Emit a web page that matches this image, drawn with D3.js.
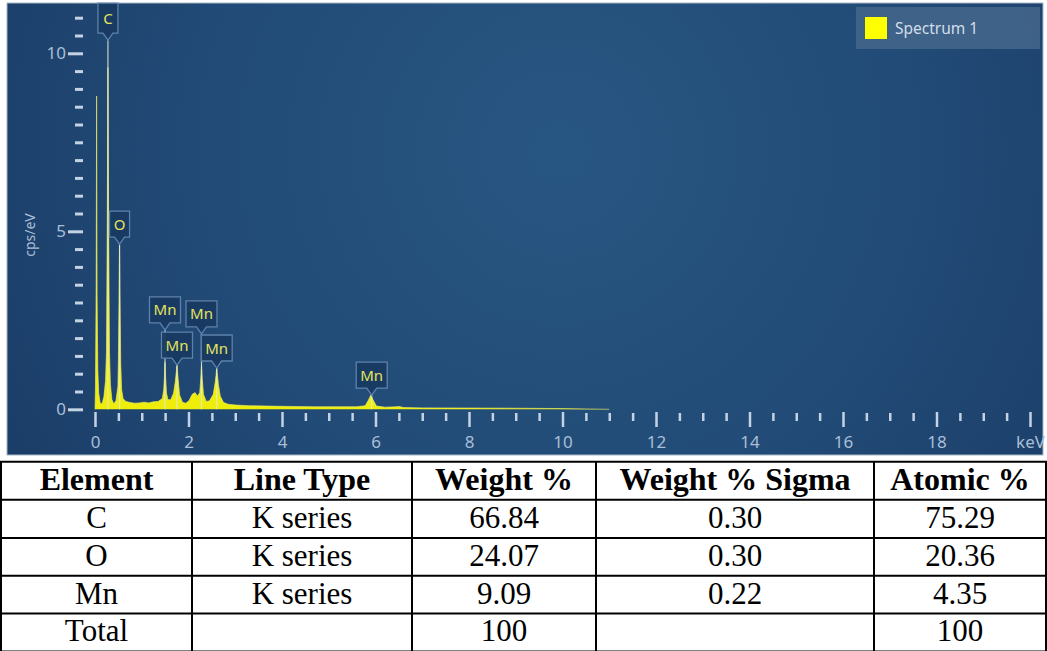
<!DOCTYPE html>
<html>
<head>
<meta charset="utf-8">
<script src="https://cdn.jsdelivr.net/npm/d3@7"></script>
<style>
  html, body { margin: 0; padding: 0; background: #ffffff; }
  svg { display: block; }
</style>
</head>
<body>
<svg id="chart" width="1047" height="651"></svg>
<script>
// EDS spectrum (energy in keV, intensity in cps/eV)
const specKeV = [0.000, 0.010, 0.025, 0.035, 0.045, 0.060, 0.080, 0.110, 0.150, 0.190,
  0.225, 0.245, 0.262, 0.277, 0.292, 0.310, 0.330, 0.360, 0.400, 0.450, 0.490, 0.500,
  0.513, 0.525, 0.537, 0.550, 0.570, 0.600, 0.660, 0.750, 0.850, 0.950, 1.050, 1.150,
  1.250, 1.350, 1.440, 1.470, 1.485, 1.497, 1.510, 1.530, 1.560, 1.620,
  1.680, 1.715, 1.735, 1.754, 1.775, 1.810, 1.870, 1.940, 2.010, 2.080, 2.140,
  2.190, 2.240, 2.262, 2.278, 2.295, 2.320, 2.380, 2.450, 2.530, 2.570, 2.588,
  2.603, 2.620, 2.640, 2.680, 2.750, 2.850, 3.000, 3.300, 3.700, 4.200, 4.700,
  5.200, 5.600, 5.780, 5.850, 5.900, 5.950, 6.020, 6.200, 6.450, 6.500,
  6.600, 7.000, 8.000, 9.000, 10.000, 10.500, 11.000];
const specCps = [0.00, 0.60, 3.50, 8.80, 3.20, 1.10, 0.45, 0.18, 0.15, 0.35,
  0.80, 1.60, 5.00, 9.60, 5.00, 1.60, 0.70, 0.28, 0.15, 0.25, 0.65, 1.40,
  3.00, 4.60, 3.00, 1.30, 0.55, 0.30, 0.22, 0.19, 0.17, 0.18, 0.20, 0.18,
  0.21, 0.22, 0.30, 0.55, 0.90, 1.32, 0.90, 0.45, 0.27, 0.27,
  0.45, 0.75, 1.00, 1.24, 0.90, 0.40, 0.20, 0.17, 0.24, 0.42, 0.47,
  0.37, 0.47, 0.85, 1.24, 0.85, 0.42, 0.22, 0.24, 0.42, 0.75, 0.95,
  1.16, 0.95, 0.70, 0.37, 0.19, 0.14, 0.12, 0.10, 0.09, 0.08, 0.07,
  0.07, 0.07, 0.10, 0.26, 0.40, 0.26, 0.09, 0.06, 0.07, 0.08,
  0.05, 0.04, 0.035, 0.03, 0.02, 0.01, 0.00];

// Element line markers: symbol, energy (keV), label anchor level (cps/eV)
const markerElem = ["C", "O", "Mn", "Mn", "Mn", "Mn", "Mn"];
const markerKeV = [0.277, 0.525, 1.497, 1.754, 2.278, 2.603, 5.919];
const markerLevel = [10.37, 4.64, 2.23, 1.24, 2.12, 1.16, 0.40];

// Axis ticks
const xMajorTicks = [0, 2, 4, 6, 8, 10, 12, 14, 16, 18, 20];
const xTickLabels = ["0", "2", "4", "6", "8", "10", "12", "14", "16", "18", "keV"];
const yMajorTicks = [0, 5, 10];
const yTickLabels = ["0", "5", "10"];
const legendLabel = "Spectrum 1";
const yTitle = "cps/eV";

// Quantification table
const tableHeaders = ["Element", "Line Type", "Weight %", "Weight % Sigma", "Atomic %"];
const tableElements = ["C", "O", "Mn", "Total"];
const tableLineType = ["K series", "K series", "K series", ""];
const tableWeight = ["66.84", "24.07", "9.09", "100"];
const tableSigma = ["0.30", "0.30", "0.22", ""];
const tableAtomic = ["75.29", "20.36", "4.35", "100"];

const svg = d3.select("#chart");
const uiFont = "'Noto Sans', 'Open Sans', sans-serif";

// ---- panel background ----
const defs = svg.append("defs");
const grad = defs.append("radialGradient")
  .attr("id", "panelBg").attr("gradientUnits", "userSpaceOnUse")
  .attr("cx", 560).attr("cy", 150).attr("r", 640);
grad.append("stop").attr("offset", "0%").attr("stop-color", "#285682");
grad.append("stop").attr("offset", "55%").attr("stop-color", "#224b77");
grad.append("stop").attr("offset", "100%").attr("stop-color", "#1a3d67");

const panel = { x: 7, y: 3, w: 1036, h: 452 };
svg.append("rect")
  .attr("x", panel.x).attr("y", panel.y).attr("width", panel.w).attr("height", panel.h)
  .attr("fill", "url(#panelBg)").attr("stroke", "#a6b6c6").attr("stroke-width", 1);

defs.append("clipPath").attr("id", "plotClip")
  .append("rect").attr("x", 90).attr("y", panel.y).attr("width", 950).attr("height", 407);

// ---- scales ----
const x = d3.scaleLinear().domain([0, 20]).range([95, 1030]);
const y = d3.scaleLinear().domain([0, 10]).range([409.3, 53.3]);

const tickColor = "#c3d3e4";
const labelColor = "#a9bfd7";

// ---- x axis ----
const xMinor = d3.range(0, 20.001, 0.5).filter(v => v % 2 !== 0);
const xMinorAxis = d3.axisBottom(x).tickValues(xMinor).tickSize(8).tickFormat("");
const xMajorAxis = d3.axisBottom(x).tickValues(xMajorTicks).tickSize(15).tickPadding(9)
  .tickFormat((d, i) => xTickLabels[i]);

const gxMinor = svg.append("g").attr("transform", "translate(0,413)").call(xMinorAxis);
const gxMajor = svg.append("g").attr("transform", "translate(0,412)").call(xMajorAxis);
[gxMinor, gxMajor].forEach(g => {
  g.select(".domain").remove();
  g.selectAll(".tick line").attr("stroke", tickColor).attr("stroke-width", 2.5);
});
gxMajor.attr("font-size", 17).attr("font-family", uiFont);
gxMajor.selectAll(".tick text")
  .attr("fill", labelColor).style("font-size", "17px").style("font-family", uiFont);

// ---- y axis ----
const yMinor = d3.range(0, 11.001, 0.5).filter(v => v % 5 !== 0);
const yMinorAxis = d3.axisLeft(y).tickValues(yMinor).tickSize(8).tickFormat("");
const yMajorAxis = d3.axisLeft(y).tickValues(yMajorTicks).tickSize(15).tickPadding(2)
  .tickFormat((d, i) => yTickLabels[i]);
const gyMinor = svg.append("g").attr("transform", "translate(83,0)").call(yMinorAxis);
const gyMajor = svg.append("g").attr("transform", "translate(83,0)").call(yMajorAxis);
[gyMinor, gyMajor].forEach(g => {
  g.select(".domain").remove();
  g.selectAll(".tick line").attr("stroke", tickColor).attr("stroke-width", 3);
});
gyMajor.attr("font-size", 17).attr("font-family", uiFont);
gyMajor.selectAll(".tick text")
  .attr("fill", labelColor).style("font-size", "17px").style("font-family", uiFont);

svg.append("text")
  .attr("transform", "translate(35,235) rotate(-90)")
  .attr("text-anchor", "middle")
  .attr("fill", labelColor).attr("font-family", uiFont).attr("font-size", 14)
  .text(yTitle);

// ---- spectrum ----
const spectrum = specKeV.map((k, i) => ({ k, v: specCps[i] }));
const plot = svg.append("g").attr("clip-path", "url(#plotClip)");
plot.append("path")
  .datum(spectrum)
  .attr("d", d3.area().x(d => x(d.k)).y0(y(0)).y1(d => y(d.v)))
  .attr("fill", "#eeee0a");
plot.append("path")
  .datum(spectrum)
  .attr("d", d3.line().x(d => x(d.k)).y(d => y(d.v)))
  .attr("fill", "none").attr("stroke", "#eef06a").attr("stroke-width", 0.8)
  .attr("stroke-opacity", 0.8);

// ---- element markers and callout labels ----
const markers = markerElem.map((e, i) => ({ e, k: markerKeV[i], lv: markerLevel[i] }));
plot.selectAll("line.marker").data(markers).join("line")
  .attr("class", "marker")
  .attr("x1", d => x(d.k)).attr("x2", d => x(d.k))
  .attr("y1", d => y(d.lv)).attr("y2", y(0))
  .attr("stroke", "#e4ead0").attr("stroke-width", 1.2).attr("stroke-opacity", 0.85);

const labelG = svg.append("g");
const callout = labelG.selectAll("g.callout").data(markers).join("g").attr("class", "callout");
callout.append("path")
  .attr("d", d => {
    const cx = x(d.k), tip = y(d.lv);
    const w = d.e.length > 1 ? 31 : 20, h = d.e === "C" ? 30 : 26, ph = 7;
    const bottom = tip - ph, top = bottom - h, l = cx - w / 2, r = cx + w / 2;
    return `M${l},${top}H${r}V${bottom}H${cx + 5}L${cx},${tip}L${cx - 5},${bottom}H${l}Z`;
  })
  .attr("fill", "#183a62").attr("fill-opacity", 0.92)
  .attr("stroke", "#5d82aa").attr("stroke-width", 1.3);
callout.append("text")
  .attr("x", d => x(d.k))
  .attr("y", d => y(d.lv) - 7 - (d.e === "C" ? 15 : 13) + 5.5)
  .attr("text-anchor", "middle")
  .attr("fill", "#e4e45c").attr("font-family", uiFont).attr("font-size", 15)
  .text(d => d.e);

// ---- legend ----
const lg = svg.append("g");
lg.append("rect").attr("x", 856).attr("y", 7).attr("width", 184).attr("height", 42)
  .attr("fill", "#43658b").attr("fill-opacity", 0.9);
lg.append("rect").attr("x", 865).attr("y", 17).attr("width", 22).attr("height", 22)
  .attr("fill", "#ffff00");
lg.append("text").attr("x", 895).attr("y", 34)
  .attr("fill", "#d3dde8").attr("font-family", uiFont).attr("font-size", 15.5)
  .text(legendLabel);

// ---- quantification table ----
const colEdges = [1, 192, 412, 596, 874, 1046];
const rowEdges = [461.7, 499.7, 537.9, 575.8, 613.5, 651.4];
const tbl = svg.append("g");
const bodyRows = tableElements.map((e, i) =>
  [e, tableLineType[i], tableWeight[i], tableSigma[i], tableAtomic[i]]);
const rows = [tableHeaders].concat(bodyRows);

rows.forEach((cells, r) => {
  cells.forEach((txt, c) => {
    tbl.append("text")
      .attr("x", (colEdges[c] + colEdges[c + 1]) / 2)
      .attr("y", rowEdges[r + 1] - 10)
      .attr("text-anchor", "middle")
      .attr("font-family", "'Liberation Serif', 'Times New Roman', serif")
      .attr("font-size", r === 0 ? 32 : 31)
      .attr("font-weight", r === 0 ? "bold" : "normal")
      .attr("fill", "#000")
      .text(txt);
  });
});
tbl.selectAll("line.h").data(rowEdges).join("line")
  .attr("x1", 0).attr("x2", 1047).attr("y1", d => d).attr("y2", d => d)
  .attr("stroke", "#000").attr("stroke-width", 2);
tbl.selectAll("line.v").data(colEdges).join("line")
  .attr("x1", d => d).attr("x2", d => d)
  .attr("y1", rowEdges[0]).attr("y2", 651)
  .attr("stroke", "#000").attr("stroke-width", 2);
</script>
</body>
</html>
